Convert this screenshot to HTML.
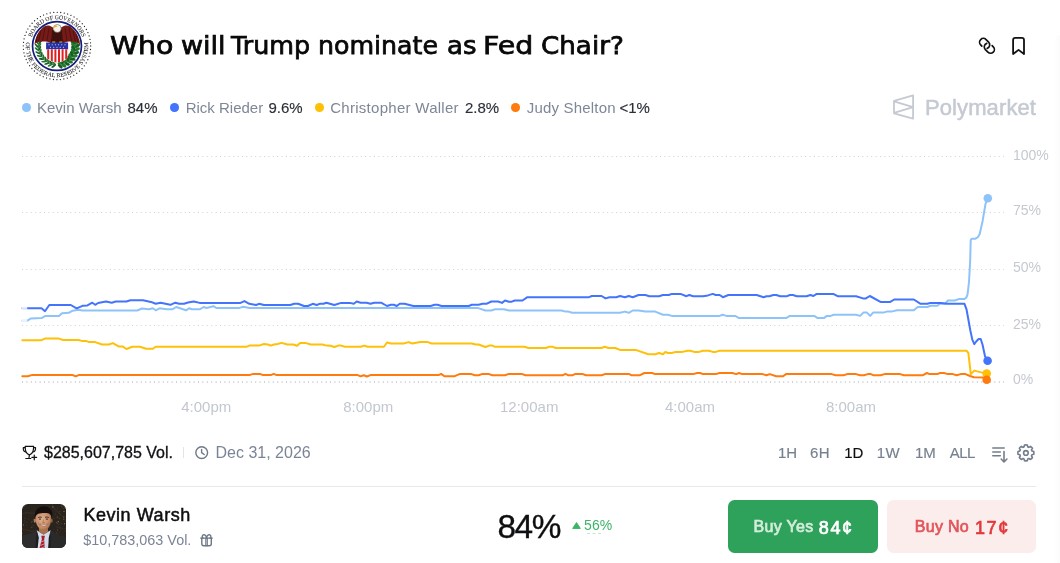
<!DOCTYPE html>
<html lang="en">
<head>
<meta charset="utf-8">
<title>Who will Trump nominate as Fed Chair?</title>
<style>
*{box-sizing:border-box;margin:0;padding:0}
html,body{width:1060px;height:563px;background:#fff;overflow:hidden}
body{font-family:"Liberation Sans",sans-serif;position:relative;color:#0e0f11}
.abs{position:absolute;white-space:nowrap}
#title{left:0;top:28px;width:700px;height:36px;font-family:"DejaVu Sans","Liberation Sans",sans-serif;font-size:24.8px;line-height:36px;font-weight:400;color:#08090a;-webkit-text-stroke:0.75px #08090a}
#title span{position:absolute;top:0;transform-origin:0 50%;transform:scaleX(1.07)}
.lg{top:99px;height:18px;line-height:18px;font-size:15px;color:#7e8797}
.lgp{top:99px;height:18px;line-height:18px;font-size:15px;color:#2b3038;-webkit-text-stroke:0.15px #2b3038}
.dot{width:8.6px;height:8.6px;border-radius:50%;top:103.100px}
#pm{left:925px;top:94px;font-size:22px;line-height:28px;color:#c5c9d2;-webkit-text-stroke:0.5px #c5c9d2;letter-spacing:0.1px}
.ylab{font-size:14px;line-height:16px;color:#c5c9d0;left:1013px}
.xlab{font-size:15px;line-height:16px;color:#c3c7cf;top:399px}
#vol{left:44px;top:443px;font-size:16px;line-height:20px;color:#111316;-webkit-text-stroke:0.3px #111316}
#date{left:215.500px;top:443px;font-size:16px;line-height:20px;color:#7b8496}
.tf{top:443px;font-size:15px;line-height:20px;color:#77808f;-webkit-text-stroke:0.15px #77808f}
.tf.on{color:#0e0f11;-webkit-text-stroke:0.15px #0e0f11}
#hr{left:22px;top:486px;width:1014px;height:1px;background:#e6e8ea}
#avatar{left:22px;top:504px;width:44px;height:44px;border-radius:6px;overflow:hidden}
#name{left:83.400px;top:503px;font-size:18px;line-height:24px;color:#0e0f11;-webkit-text-stroke:0.5px #0e0f11;letter-spacing:0.55px}
#sub{left:83.300px;top:530px;font-size:14.400px;line-height:20px;color:#7b8496}
#pct{left:497.500px;top:506.500px;font-size:33.400px;line-height:40px;color:#0e0f11;letter-spacing:-1.500px;-webkit-text-stroke:0.35px #0e0f11}
#chg{left:584px;top:516px;font-size:14px;line-height:18px;color:#3db468;letter-spacing:0.15px}
.btn{top:500px;height:53px;border-radius:6.500px}
#yes{left:728px;width:150px;background:#2ea15b;color:#d4ecdb}
#no{left:887px;width:149px;background:#fbedec;color:#e0565a}
.btn span{position:absolute;top:0;line-height:53px;font-weight:400;font-size:16px;letter-spacing:0.3px;-webkit-text-stroke:0.7px currentColor}
.btn b{position:absolute;top:1.500px;line-height:53px;font-weight:400;font-size:18px;letter-spacing:1.600px;-webkit-text-stroke:0.7px currentColor}
#yes b{color:#fff}
#no b{color:#e2383c}
</style>
</head>
<body>

<!-- Fed seal -->
<svg id="seal" class="abs" style="left:17.100px;top:6.100px" width="80" height="80" viewBox="-40 -40 80 80">
  <defs>
    <path id="arcTop" d="M-26.700 0A26.700 26.700 0 0 1 26.700 0"/>
    <path id="arcBot" d="M-29.318 -10.671A31.2 31.2 0 1 0 29.318 -10.671"/>
    <clipPath id="inner"><circle r="23.700"/></clipPath>
  </defs>
  <circle r="33.700" fill="none" stroke="#262626" stroke-width="1.300" stroke-dasharray="0.010 3.519" stroke-linecap="round"/>
  <text font-family="Liberation Serif,serif" font-weight="400" font-size="6" fill="#262626" stroke="#262626" stroke-width="0.060" text-anchor="middle"><textPath href="#arcTop" startOffset="50%" textLength="65.500" lengthAdjust="spacingAndGlyphs">BOARD OF GOVERNORS</textPath></text>
  <text font-family="Liberation Serif,serif" font-weight="400" font-size="5.800" fill="#262626" stroke="#262626" stroke-width="0.060" text-anchor="middle"><textPath href="#arcBot" startOffset="50%" textLength="105" lengthAdjust="spacingAndGlyphs">OF THE FEDERAL RESERVE SYSTEM</textPath></text>
  <circle r="24.450" fill="#fff" stroke="#171d7c" stroke-width="1.700"/>
  <g clip-path="url(#inner)">
    <!-- laurel branches -->
    <g>
      <path d="M-18.70 -1.97 L-18.75 1.38 L-18.21 4.69 L-17.08 7.85 L-15.42 10.75 L-13.27 13.32 L-10.69 15.46 L-7.78 17.11 L-4.62 18.22 L-1.31 18.75" fill="none" stroke="#1f4f1c" stroke-width="0.800"/>
      <ellipse cx="-17.01" cy="-3.71" rx="2.7" ry="0.95" fill="#175f22" transform="rotate(314.0 -17.01 -3.71)"/>
      <ellipse cx="-19.98" cy="-4.03" rx="2.7" ry="0.95" fill="#24792f" transform="rotate(238.0 -19.98 -4.03)"/>
      <ellipse cx="-17.40" cy="-0.64" rx="2.7" ry="0.95" fill="#24792f" transform="rotate(303.8 -17.40 -0.64)"/>
      <ellipse cx="-20.38" cy="-0.42" rx="2.7" ry="0.95" fill="#175f22" transform="rotate(227.8 -20.38 -0.42)"/>
      <ellipse cx="-17.23" cy="2.46" rx="2.7" ry="0.95" fill="#175f22" transform="rotate(293.6 -17.23 2.46)"/>
      <ellipse cx="-20.13" cy="3.21" rx="2.7" ry="0.95" fill="#24792f" transform="rotate(217.6 -20.13 3.21)"/>
      <ellipse cx="-16.52" cy="5.48" rx="2.7" ry="0.95" fill="#24792f" transform="rotate(283.3 -16.52 5.48)"/>
      <ellipse cx="-19.24" cy="6.73" rx="2.7" ry="0.95" fill="#175f22" transform="rotate(207.3 -19.24 6.73)"/>
      <ellipse cx="-15.29" cy="8.33" rx="2.7" ry="0.95" fill="#175f22" transform="rotate(273.1 -15.29 8.33)"/>
      <ellipse cx="-17.74" cy="10.04" rx="2.7" ry="0.95" fill="#24792f" transform="rotate(197.1 -17.74 10.04)"/>
      <ellipse cx="-13.57" cy="10.91" rx="2.7" ry="0.95" fill="#24792f" transform="rotate(262.9 -13.57 10.91)"/>
      <ellipse cx="-15.68" cy="13.03" rx="2.7" ry="0.95" fill="#175f22" transform="rotate(186.9 -15.68 13.03)"/>
      <ellipse cx="-11.42" cy="13.14" rx="2.7" ry="0.95" fill="#175f22" transform="rotate(252.7 -11.42 13.14)"/>
      <ellipse cx="-13.12" cy="15.60" rx="2.7" ry="0.95" fill="#24792f" transform="rotate(176.7 -13.12 15.60)"/>
      <ellipse cx="-8.90" cy="14.96" rx="2.7" ry="0.95" fill="#24792f" transform="rotate(242.4 -8.90 14.96)"/>
      <ellipse cx="-10.14" cy="17.68" rx="2.7" ry="0.95" fill="#175f22" transform="rotate(166.4 -10.14 17.68)"/>
      <ellipse cx="-6.11" cy="16.30" rx="2.7" ry="0.95" fill="#175f22" transform="rotate(232.2 -6.11 16.30)"/>
      <ellipse cx="-6.84" cy="19.20" rx="2.7" ry="0.95" fill="#24792f" transform="rotate(156.2 -6.84 19.20)"/>
      <ellipse cx="-3.12" cy="17.13" rx="2.7" ry="0.95" fill="#24792f" transform="rotate(222.0 -3.12 17.13)"/>
      <ellipse cx="-3.33" cy="20.11" rx="2.7" ry="0.95" fill="#175f22" transform="rotate(146.0 -3.33 20.11)"/>
      <path d="M17.69 -5.07 L18.31 -1.86 L18.35 1.41 L17.81 4.64 L16.70 7.72 L15.07 10.55 L12.97 13.06 L10.45 15.15 L7.60 16.76 L4.51 17.84 L1.28 18.36" fill="none" stroke="#1f4f1c" stroke-width="0.800"/>
      <ellipse cx="19.12" cy="-7.36" rx="3.0" ry="1.55" fill="#175f22" transform="rotate(-58.0 19.12 -7.36)"/>
      <ellipse cx="15.26" cy="-6.26" rx="3.0" ry="1.55" fill="#227a2e" transform="rotate(-154.0 15.26 -6.26)"/>
      <ellipse cx="20.12" cy="-3.86" rx="3.0" ry="1.55" fill="#227a2e" transform="rotate(-47.8 20.12 -3.86)"/>
      <ellipse cx="16.13" cy="-3.45" rx="3.0" ry="1.55" fill="#175f22" transform="rotate(-143.8 16.13 -3.45)"/>
      <ellipse cx="20.48" cy="-0.24" rx="3.0" ry="1.55" fill="#175f22" transform="rotate(-37.6 20.48 -0.24)"/>
      <ellipse cx="16.48" cy="-0.54" rx="3.0" ry="1.55" fill="#227a2e" transform="rotate(-133.6 16.48 -0.54)"/>
      <ellipse cx="20.20" cy="3.40" rx="3.0" ry="1.55" fill="#227a2e" transform="rotate(-27.4 20.20 3.40)"/>
      <ellipse cx="16.32" cy="2.38" rx="3.0" ry="1.55" fill="#175f22" transform="rotate(-123.4 16.32 2.38)"/>
      <ellipse cx="19.28" cy="6.92" rx="3.0" ry="1.55" fill="#175f22" transform="rotate(-17.2 19.28 6.92)"/>
      <ellipse cx="15.64" cy="5.24" rx="3.0" ry="1.55" fill="#227a2e" transform="rotate(-113.2 15.64 5.24)"/>
      <ellipse cx="17.75" cy="10.22" rx="3.0" ry="1.55" fill="#227a2e" transform="rotate(-7.0 17.75 10.22)"/>
      <ellipse cx="14.47" cy="7.92" rx="3.0" ry="1.55" fill="#175f22" transform="rotate(-103.0 14.47 7.92)"/>
      <ellipse cx="15.66" cy="13.21" rx="3.0" ry="1.55" fill="#175f22" transform="rotate(3.2 15.66 13.21)"/>
      <ellipse cx="12.83" cy="10.36" rx="3.0" ry="1.55" fill="#227a2e" transform="rotate(-92.8 12.83 10.36)"/>
      <ellipse cx="13.07" cy="15.77" rx="3.0" ry="1.55" fill="#227a2e" transform="rotate(13.4 13.07 15.77)"/>
      <ellipse cx="10.80" cy="12.47" rx="3.0" ry="1.55" fill="#175f22" transform="rotate(-82.6 10.80 12.47)"/>
      <ellipse cx="10.08" cy="17.84" rx="3.0" ry="1.55" fill="#175f22" transform="rotate(23.6 10.08 17.84)"/>
      <ellipse cx="8.42" cy="14.18" rx="3.0" ry="1.55" fill="#227a2e" transform="rotate(-72.4 8.42 14.18)"/>
      <ellipse cx="6.76" cy="19.34" rx="3.0" ry="1.55" fill="#227a2e" transform="rotate(33.8 6.76 19.34)"/>
      <ellipse cx="5.77" cy="15.45" rx="3.0" ry="1.55" fill="#175f22" transform="rotate(-62.2 5.77 15.45)"/>
      <ellipse cx="3.23" cy="20.23" rx="3.0" ry="1.55" fill="#175f22" transform="rotate(44.0 3.23 20.23)"/>
      <ellipse cx="2.95" cy="16.23" rx="3.0" ry="1.55" fill="#227a2e" transform="rotate(-52.0 2.95 16.23)"/>
    </g>
    <!-- wings -->
    <path d="M-4 -18.500C-7 -21 -10 -21 -12 -20C-17 -17 -21 -12 -22.500 -2C-19 -4.500 -15 -4.800 -11.500 -4.500C-9 -4.200 -7 -3.500 -5 -2L-3 -8Z" fill="#761b17"/>
    <path d="M4 -18.500C7 -21 10.500 -21 12.500 -20C17.500 -17 21.500 -12 23.200 -1.500C20 -4.500 16 -4.800 12 -4.500C9.500 -4.200 7.500 -3.500 5.500 -2L3 -8Z" fill="#761b17"/>
    <path d="M-5 -16C-5 -10 -6 -5 -7 -1L7 -1C6 -5 5 -10 5 -16Z" fill="#3e110e"/>
    <g stroke="#3e110e" stroke-width="0.700" fill="none">
      <path d="M-8 -18L-10 -5M-12 -18.500L-14.500 -5M-16 -15.500L-18.500 -4.500M-19 -11.500L-21 -4"/>
      <path d="M8 -18L10 -5M12 -18.500L14.500 -5M16 -15.500L18.500 -4.500M19 -11.500L21 -4"/>
    </g>
    <!-- head -->
    <ellipse cx="0.300" cy="-17.500" rx="3.900" ry="4" fill="#f4f1ea" stroke="#4a3b33" stroke-width="0.500"/>
    <path d="M-3.900 -19.800L-1.500 -21L0.500 -19.600L-2 -18.600Z" fill="#f2b21b"/>
    <!-- claws -->
    <path d="M-4.800 -4.600h3v1.600h-3zM2.300 -4.600h3v1.600h-3z" fill="#e7b32b"/>
    <!-- shield -->
    <path d="M-10.900 -3.400H11.100V3.400H-10.900Z" fill="#2632a6"/>
    <path d="M-10.300 3.300H10.500V11C10.500 14 6 15.500 0.100 16.800C-5.800 15.500 -10.300 14 -10.300 11Z" fill="#fff"/>
    <g fill="#e0201f">
      <path d="M-9.800 3.300h2v10.500l-2 -1.200z"/>
      <path d="M-6.200 3.300h2v12.300l-2 -.8z"/>
      <path d="M-2.600 3.300h2v13.300l-2 -.5z"/>
      <path d="M1 3.300h2v12.800l-2 .5z"/>
      <path d="M4.600 3.300h2v11.500l-2 .8z"/>
      <path d="M8.200 3.300h2v9.300l-2 1.200z"/>
    </g>
    <g fill="#e9ecff">
      <circle cx="-8" cy="-1.200" r=".55"/><circle cx="-4.800" cy="-1.200" r=".55"/><circle cx="-1.600" cy="-1.200" r=".55"/><circle cx="1.600" cy="-1.200" r=".55"/><circle cx="4.800" cy="-1.200" r=".55"/><circle cx="8" cy="-1.200" r=".55"/>
      <circle cx="-6.400" cy="1.300" r=".55"/><circle cx="-3.200" cy="1.300" r=".55"/><circle cx="0" cy="1.300" r=".55"/><circle cx="3.200" cy="1.300" r=".55"/><circle cx="6.400" cy="1.300" r=".55"/>
    </g>
  </g>
</svg>

<div id="title" class="abs"><span style="left:110px;transform:scaleX(1.146)">Who </span><span style="left:180.500px;transform:scaleX(1.09)">will </span><span style="left:231px;transform:scaleX(1.024)">Trump </span><span style="left:317.800px;transform:scaleX(1.019)">nominate </span><span style="left:447px;transform:scaleX(1.05)">as </span><span style="left:483px;transform:scaleX(1.146)">Fed </span><span style="left:541px;transform:scaleX(1.055)">Chair?</span></div>

<!-- header icons -->
<svg class="abs" style="left:0;top:0" width="1060" height="70" viewBox="0 0 1060 70" fill="none" stroke="#111" stroke-width="1.7" stroke-linecap="round" stroke-linejoin="round">
  <g transform="translate(986.98 45.86) rotate(45)">
    <path d="M-3.500 3.800 L-5.100 3.800 A3.800 3.800 0 0 1 -5.100 -3.800 L-1.500 -3.800 A3.800 3.800 0 0 1 1.950 1.600"/>
    <path d="M3.500 -3.800 L5.100 -3.800 A3.800 3.800 0 0 1 5.100 3.800 L1.500 3.800 A3.800 3.800 0 0 1 -1.950 -1.600"/>
  </g>
  <path stroke-width="1.8" d="M1013.100 54 V40.100 a2.200 2.200 0 0 1 2.200 -2.200 h6.500 a2.200 2.200 0 0 1 2.200 2.200 V54 L1018.550 49.900 Z"/>
</svg>

<!-- legend -->
<div class="abs dot" style="left:22.200px;background:#8ec3fa"></div><div class="abs lg" style="left:37px">Kevin Warsh</div><div class="abs lgp" style="left:127.500px">84%</div>
<div class="abs dot" style="left:170.200px;background:#4374fb"></div><div class="abs lg" style="left:185.700px">Rick Rieder</div><div class="abs lgp" style="left:268.500px">9.6%</div>
<div class="abs dot" style="left:315.200px;background:#ffc008"></div><div class="abs lg" style="left:330.200px;letter-spacing:0.28px">Christopher Waller</div><div class="abs lgp" style="left:465px">2.8%</div>
<div class="abs dot" style="left:511.400px;background:#ff7b0e"></div><div class="abs lg" style="left:526.800px;letter-spacing:0.18px">Judy Shelton</div><div class="abs lgp" style="left:619.500px">&lt;1%</div>

<!-- Polymarket watermark -->
<svg class="abs" style="left:892px;top:93px" width="24" height="28" viewBox="0 0 24 28" fill="none" stroke="#c5c9d2" stroke-width="1.8" stroke-linejoin="round">
  <path d="M21.100 2.400 L2 7.900 V20.300 L21.100 25.700 Z"/>
  <path d="M2 8.400 L21.100 14.100 L2 19.800"/>
</svg>
<div id="pm" class="abs">Polymarket</div>

<!-- chart -->
<svg class="abs" style="left:0;top:0" width="1060" height="563" viewBox="0 0 1060 563" fill="none">
  <g stroke="#cfd3d9" stroke-width="1" stroke-dasharray="1 3.4">
    <path d="M22 156.500H1004"/>
    <path d="M22 212.500H1004"/>
    <path d="M22 269.500H1004"/>
    <path d="M22 325.500H1004"/>
  </g>
  <path d="M22 382H1004" stroke="#cfd3d9" stroke-width="2" stroke-dasharray="1 3.4"/>
  <g stroke-width="2" stroke-linejoin="round" stroke-linecap="round">
    <path stroke="#ff7b0e" d="M22.3 376.3 L27.8 376.3 L31.7 375.1 L72.7 375.1 L75.7 376.3 L78.6 375.1 L220.0 375.1 L249.3 375.1 L253.2 373.9 L260.0 373.9 L263.0 375.1 L270.8 375.1 L273.7 373.9 L276.6 375.1 L357.7 375.1 L360.6 376.3 L363.9 375.3 L366.9 376.5 L370.4 375.1 L420.0 375.1 L438.6 375.1 L441.1 373.9 L444.4 376.3 L454.2 376.3 L460.0 373.9 L470.8 373.9 L474.7 375.3 L478.6 375.3 L482.5 373.9 L488.4 373.9 L492.3 375.3 L505.0 375.3 L508.9 373.9 L521.6 373.9 L525.5 375.3 L562.6 375.3 L565.5 373.9 L568.4 375.3 L572.3 375.3 L575.3 373.9 L582.1 373.9 L586.0 375.3 L601.6 375.3 L605.5 373.9 L620.0 373.9 L628.8 373.9 L631.7 375.3 L639.5 375.3 L644.4 373.0 L652.2 373.0 L655.2 374.1 L693.2 374.1 L697.1 373.0 L700.1 373.0 L703.0 374.1 L715.7 374.1 L719.6 373.0 L732.3 373.0 L736.2 374.1 L739.1 373.0 L742.1 374.1 L762.6 374.1 L766.5 375.3 L769.8 374.1 L776.2 376.3 L783.1 376.3 L786.0 374.1 L820.0 374.1 L831.7 374.1 L835.6 375.3 L843.4 375.3 L847.3 374.1 L856.1 374.1 L860.0 375.3 L863.9 375.3 L867.9 374.1 L870.8 374.1 L873.7 375.3 L880.5 375.3 L884.5 374.1 L900.1 374.1 L904.0 375.3 L922.5 375.3 L927.0 373.0 L929.4 374.1 L937.2 374.1 L940.1 373.0 L944.0 373.0 L947.9 374.1 L952.8 374.1 L956.7 375.3 L960.6 374.1 L965.5 374.1 L970.0 376.0 L974.0 377.3 L986.4 377.6"/>
    <path stroke="#ffc008" d="M22.3 340.2 L41.5 340.2 L45.0 338.6 L59.0 338.6 L63.0 340.0 L78.6 340.0 L82.5 341.1 L86.4 341.1 L89.3 342.1 L95.2 342.1 L102.0 344.5 L108.9 344.5 L112.8 343.1 L118.6 346.4 L122.5 346.4 L126.4 349.0 L132.3 346.8 L140.1 346.8 L146.0 348.8 L152.8 348.8 L155.7 346.8 L220.0 346.8 L246.4 346.8 L249.3 345.6 L259.0 345.6 L264.0 344.0 L267.9 344.5 L270.8 345.6 L273.7 344.5 L277.6 344.0 L281.5 342.9 L287.4 344.5 L293.2 344.5 L297.1 345.8 L300.1 343.1 L306.0 343.1 L310.8 344.5 L322.5 344.5 L326.4 345.6 L330.4 345.8 L334.3 347.0 L338.2 345.6 L341.1 345.6 L345.0 346.8 L360.6 346.8 L364.5 345.6 L367.5 346.8 L384.0 346.8 L387.0 342.5 L390.9 343.5 L403.6 343.5 L408.5 342.1 L412.4 343.5 L420.0 342.1 L427.8 342.1 L431.7 343.5 L471.8 343.5 L475.7 344.5 L478.6 344.5 L485.4 347.0 L489.3 345.6 L492.3 345.6 L495.2 346.8 L524.5 346.8 L528.4 348.0 L546.0 348.0 L548.9 346.8 L552.8 346.8 L555.7 348.0 L601.6 348.0 L604.6 346.8 L608.5 348.0 L615.3 348.0 L620.0 349.9 L635.6 349.9 L648.3 354.2 L655.2 354.2 L659.0 353.0 L663.0 354.2 L665.3 351.9 L667.9 353.0 L671.8 353.0 L675.7 351.9 L682.5 351.9 L687.4 350.7 L690.3 350.7 L694.2 351.9 L699.1 351.9 L703.0 350.7 L708.9 350.7 L712.8 351.9 L715.7 351.9 L719.6 350.7 L820.0 350.7 L966.5 350.7 L968.4 353.2 L970.8 374.1 L974.3 370.6 L986.4 373.6"/>
    <path stroke="#8ec3fa" d="M22.3 320.4 L27.8 320.4 L30.7 318.5 L41.5 318.1 L45.0 316.1 L59.0 315.9 L62.0 313.2 L68.8 312.8 L72.7 310.7 L78.6 309.7 L82.5 310.5 L137.2 310.5 L142.0 308.5 L148.9 309.3 L152.8 308.3 L155.7 310.3 L159.6 308.3 L166.5 309.3 L172.3 309.3 L176.2 307.0 L186.0 310.3 L189.0 308.3 L191.9 309.3 L199.7 309.3 L203.6 307.0 L206.5 308.0 L213.4 306.2 L216.3 308.0 L220.0 308.0 L239.5 307.9 L243.4 306.8 L249.3 307.9 L420.0 307.9 L477.6 307.9 L485.4 310.5 L491.3 310.5 L495.2 309.3 L504.0 309.3 L508.9 310.5 L561.6 310.5 L565.5 311.6 L568.4 311.6 L572.3 312.8 L620.0 312.8 L624.9 311.6 L628.8 312.8 L632.7 310.5 L638.6 310.5 L645.4 311.6 L655.2 311.6 L663.0 314.8 L667.9 314.8 L671.8 315.9 L719.6 315.9 L722.5 314.8 L726.4 315.9 L735.2 315.9 L739.1 318.1 L786.0 318.1 L789.9 315.9 L814.3 315.9 L817.3 317.9 L820.0 318.1 L823.9 318.1 L826.8 315.9 L830.7 315.9 L833.7 314.8 L856.1 314.8 L860.0 315.9 L863.4 312.6 L866.9 312.6 L870.2 315.9 L873.1 312.6 L883.5 312.6 L887.4 311.4 L892.3 311.4 L897.1 310.3 L913.8 310.3 L917.7 307.0 L927.4 307.0 L930.4 305.8 L937.2 305.8 L940.1 303.8 L945.0 303.8 L947.9 300.5 L954.8 300.5 L958.7 299.1 L964.5 299.1 L966.3 297.5 L967.5 294.6 L969.0 282.2 L970.2 260.0 L970.7 240.1 L971.8 238.7 L975.5 238.7 L978.0 237.0 L979.8 233.8 L982.6 221.0 L985.5 204.0 L987.8 198.3"/>
    <path stroke="#4374fb" d="M22.3 308.3 L41.5 308.3 L45.0 311.2 L49.3 305.0 L70.8 305.0 L76.6 308.3 L82.5 305.8 L87.4 305.4 L92.3 302.7 L95.2 304.8 L98.1 303.0 L106.0 301.5 L111.8 302.7 L115.7 301.5 L126.4 301.5 L130.4 300.3 L143.0 300.3 L150.9 301.9 L155.7 303.8 L160.6 302.7 L170.4 304.8 L175.3 302.7 L179.2 303.8 L184.0 303.8 L188.0 302.5 L193.8 301.5 L199.7 302.9 L220.0 302.9 L240.5 302.9 L244.4 301.1 L249.3 303.8 L256.1 305.0 L259.0 303.8 L264.0 305.0 L290.3 305.0 L294.2 303.8 L298.1 303.8 L304.0 306.0 L307.9 306.0 L312.8 303.8 L316.7 305.0 L319.6 303.8 L323.5 303.8 L326.4 302.7 L334.3 305.0 L341.1 302.9 L349.9 302.9 L353.8 303.8 L356.7 301.5 L360.6 302.7 L366.5 302.7 L370.4 303.8 L374.3 302.7 L381.1 302.7 L387.0 306.0 L390.9 304.8 L393.8 304.8 L396.8 306.0 L399.7 303.8 L404.6 303.8 L413.4 306.0 L420.0 306.0 L430.7 306.0 L434.6 304.8 L437.6 304.8 L441.5 306.0 L468.8 306.0 L471.8 304.8 L478.6 304.8 L482.5 303.8 L486.4 303.8 L491.3 301.5 L498.1 301.5 L502.0 302.9 L505.0 300.5 L508.9 301.7 L511.8 301.7 L514.7 300.5 L522.5 300.5 L527.4 297.2 L589.0 297.2 L591.9 296.0 L601.6 296.0 L605.5 298.4 L609.5 297.2 L616.3 297.2 L620.0 296.0 L624.9 297.2 L628.8 296.0 L632.7 297.2 L638.6 295.0 L645.4 295.0 L649.3 296.2 L659.0 296.2 L663.0 295.0 L668.8 295.0 L671.8 293.9 L680.5 293.9 L686.4 296.2 L689.3 295.0 L693.2 296.2 L703.0 296.2 L707.9 295.4 L712.8 293.9 L715.7 295.0 L719.6 295.0 L722.9 297.2 L728.4 295.0 L756.7 295.0 L763.6 297.2 L766.5 296.2 L769.4 296.2 L773.3 295.0 L776.2 295.0 L780.2 296.2 L787.0 296.2 L789.9 295.0 L792.9 295.0 L796.8 296.2 L806.5 296.2 L810.4 295.0 L813.4 296.0 L816.3 294.1 L820.0 294.1 L833.7 294.1 L837.6 296.2 L856.1 296.2 L863.0 298.4 L865.9 298.4 L869.8 296.0 L880.5 301.9 L890.3 301.9 L894.2 299.5 L913.8 299.5 L920.6 303.8 L927.4 303.8 L930.4 302.9 L941.1 302.9 L947.0 303.8 L964.5 303.8 L966.5 309.3 L970.4 330.8 L972.3 339.6 L974.3 344.1 L976.2 341.5 L978.6 339.0 L980.7 339.0 L982.5 344.5 L985.0 356.2 L987.6 360.7"/>
  </g>
  <rect x="21.500" y="307" width="5.700" height="2.600" fill="#fff" opacity="0.800"/>
  <rect x="21.500" y="319.100" width="5.700" height="2.600" fill="#fff" opacity="0.800"/>
  <circle cx="987.8" cy="198.3" r="4.3" fill="#8ec3fa"/>
  <circle cx="987.6" cy="360.7" r="4.3" fill="#4374fb"/>
  <circle cx="986.7" cy="373.6" r="4.3" fill="#ffc008"/>
  <circle cx="986.7" cy="379.8" r="4.3" fill="#ff7b0e"/>
</svg>
<div class="abs ylab" style="top:146.600px">100%</div>
<div class="abs ylab" style="top:202.400px">75%</div>
<div class="abs ylab" style="top:259.300px">50%</div>
<div class="abs ylab" style="top:315.800px">25%</div>
<div class="abs ylab" style="top:370.700px">0%</div>
<div class="abs xlab" style="left:181.200px">4:00pm</div>
<div class="abs xlab" style="left:343.200px">8:00pm</div>
<div class="abs xlab" style="left:500px">12:00am</div>
<div class="abs xlab" style="left:665px">4:00am</div>
<div class="abs xlab" style="left:826px">8:00am</div>

<!-- meta row -->
<svg class="abs" style="left:18px;top:440px" width="30" height="26" viewBox="18 440 30 26" fill="none" stroke="#111316" stroke-width="1.200" stroke-linecap="round" stroke-linejoin="round">
  <path d="M25.200 446.300H33.600C33.600 450.500 33.400 453 29.400 455C25.400 453 25.200 450.500 25.200 446.300Z"/>
  <path d="M24.900 447.600H23.300C23.100 450 23.900 451.600 25.700 452M33.900 447.600H35.500C35.700 450 34.900 451.600 33.100 452"/>
  <path d="M29.400 455L28.900 458.500M25.800 458.500H30.800"/>
  <path d="M31.900 457.400H36.600M34.250 455V459.800"/>
</svg>
<div id="vol" class="abs">$285,607,785 Vol.</div>
<div class="abs" style="left:183px;top:447px;width:1px;height:11px;background:#e1e4e8"></div>
<svg class="abs" style="left:193px;top:444px" width="18" height="18" viewBox="193 444 18 18" fill="none" stroke="#6f7988" stroke-width="1.400" stroke-linecap="round" stroke-linejoin="round">
  <circle cx="201.700" cy="452.600" r="5.900"/>
  <path d="M201.600 449.500V452.600L204.200 454.500"/>
</svg>
<div id="date" class="abs">Dec 31, 2026</div>

<div class="abs tf" style="left:778px">1H</div>
<div class="abs tf" style="left:810px;letter-spacing:0.3px">6H</div>
<div class="abs tf on" style="left:844.200px">1D</div>
<div class="abs tf" style="left:876.800px;letter-spacing:0.4px">1W</div>
<div class="abs tf" style="left:915px">1M</div>
<div class="abs tf" style="left:949.800px;letter-spacing:-0.6px">ALL</div>
<svg class="abs" style="left:985px;top:438px" width="56" height="30" viewBox="985 438 56 30" fill="none" stroke="#737d8d" stroke-width="1.6" stroke-linecap="round" stroke-linejoin="round">
  <path d="M992.800 448H1004.200M992.800 452H1000.300M992.800 455.700H1000.300"/>
  <path d="M1004 451.600V461.800M1001.200 459L1004 462L1006.900 459"/>
  <path d="M1024.06 446.88L1024.51 445.02A8.0 8.0 0 0 1 1027.29 445.02L1027.74 446.88A6.3 6.3 0 0 1 1028.86 447.34L1030.49 446.35A8.0 8.0 0 0 1 1032.45 448.31L1031.46 449.94A6.3 6.3 0 0 1 1031.92 451.06L1033.78 451.51A8.0 8.0 0 0 1 1033.78 454.29L1031.92 454.74A6.3 6.3 0 0 1 1031.46 455.86L1032.45 457.49A8.0 8.0 0 0 1 1030.49 459.45L1028.86 458.46A6.3 6.3 0 0 1 1027.74 458.92L1027.29 460.78A8.0 8.0 0 0 1 1024.51 460.78L1024.06 458.92A6.3 6.3 0 0 1 1022.94 458.46L1021.31 459.45A8.0 8.0 0 0 1 1019.35 457.49L1020.34 455.86A6.3 6.3 0 0 1 1019.88 454.74L1018.02 454.29A8.0 8.0 0 0 1 1018.02 451.51L1019.88 451.06A6.3 6.3 0 0 1 1020.34 449.94L1019.35 448.31A8.0 8.0 0 0 1 1021.31 446.35L1022.94 447.34A6.3 6.3 0 0 1 1024.06 446.88Z"/>
  <circle cx="1025.900" cy="452.900" r="2.300"/>
</svg>

<div id="hr" class="abs"></div>
<div class="abs" style="left:1054px;top:35px;width:6px;height:528px;border-top-left-radius:6px;background:linear-gradient(to right,rgba(16,24,40,0),rgba(16,24,40,0.02))"></div>

<!-- outcome row -->
<div id="avatar" class="abs">
<svg width="44" height="44" viewBox="0 0 44 44">
  <defs>
    <filter id="soft" x="-10%" y="-10%" width="120%" height="120%"><feGaussianBlur stdDeviation="0.45"/></filter>
    <radialGradient id="skin" cx="42%" cy="45%" r="65%"><stop offset="0" stop-color="#e2b08e"/><stop offset="0.7" stop-color="#c48a66"/><stop offset="1" stop-color="#8e5d43"/></radialGradient>
  </defs>
  <rect width="44" height="44" fill="#2a241f"/>
  <g filter="url(#soft)">
    <path d="M0 10C8 6 12 14 20 4M30 0C34 10 40 8 44 18M0 26C6 24 8 30 14 26M34 22C38 26 40 22 44 28" stroke="#4a3a28" stroke-width="0.800" fill="none" opacity="0.7"/>
    <circle cx="2.6" cy="16.2" r="0.32" fill="#b98a45" opacity="0.61"/>
    <circle cx="10.6" cy="17.6" r="0.33" fill="#8a6a35" opacity="0.87"/>
    <circle cx="2.7" cy="18.7" r="0.32" fill="#a07a3a" opacity="0.42"/>
    <circle cx="37.8" cy="9.3" r="0.37" fill="#8a6a35" opacity="0.69"/>
    <circle cx="4.5" cy="18.3" r="0.39" fill="#8a6a35" opacity="0.67"/>
    <circle cx="2.8" cy="1.9" r="0.40" fill="#b98a45" opacity="0.79"/>
    <circle cx="7.9" cy="25.0" r="0.34" fill="#6b5430" opacity="0.66"/>
    <circle cx="38.5" cy="23.3" r="0.44" fill="#8a6a35" opacity="0.46"/>
    <circle cx="6.7" cy="15.6" r="0.32" fill="#8a6a35" opacity="0.78"/>
    <circle cx="41.6" cy="15.2" r="0.63" fill="#8a6a35" opacity="0.77"/>
    <circle cx="31.5" cy="28.4" r="0.47" fill="#b98a45" opacity="0.58"/>
    <circle cx="36.3" cy="17.7" r="0.67" fill="#c9994d" opacity="0.70"/>
    <circle cx="42.0" cy="7.3" r="0.62" fill="#c9994d" opacity="0.78"/>
    <circle cx="41.1" cy="4.6" r="0.42" fill="#9a763a" opacity="0.74"/>
    <circle cx="42.5" cy="19.8" r="0.54" fill="#c9994d" opacity="0.93"/>
    <circle cx="39.2" cy="19.2" r="0.36" fill="#9a763a" opacity="0.87"/>
    <circle cx="30.9" cy="3.0" r="0.65" fill="#9a763a" opacity="0.85"/>
    <circle cx="34.6" cy="18.5" r="0.38" fill="#b88a44" opacity="0.79"/>
    <circle cx="37.0" cy="20.5" r="0.48" fill="#7a5f33" opacity="0.68"/>
    <circle cx="37.7" cy="28.1" r="0.33" fill="#7a5f33" opacity="0.64"/>
    <circle cx="33.2" cy="10.1" r="0.33" fill="#9a763a" opacity="0.68"/>
    <circle cx="41.9" cy="12.8" r="0.68" fill="#9a763a" opacity="0.60"/>
    <circle cx="43.0" cy="3.5" r="0.45" fill="#c9994d" opacity="0.69"/>
    <circle cx="37.9" cy="7.6" r="0.57" fill="#7a5f33" opacity="0.54"/>
    <circle cx="34.7" cy="29.0" r="0.60" fill="#9a763a" opacity="0.56"/>
    <circle cx="39.9" cy="2.3" r="0.49" fill="#c9994d" opacity="0.58"/>
    <circle cx="37.8" cy="14.5" r="0.38" fill="#b88a44" opacity="0.69"/>
    <circle cx="35.4" cy="13.1" r="0.70" fill="#9a763a" opacity="0.62"/>
    <circle cx="43.6" cy="24.5" r="0.42" fill="#9a763a" opacity="0.59"/>
    <circle cx="35.5" cy="25.9" r="0.56" fill="#9a763a" opacity="0.52"/>
    <circle cx="32.0" cy="14.4" r="0.30" fill="#7a5f33" opacity="0.87"/>
    <circle cx="35.4" cy="4.1" r="0.38" fill="#b88a44" opacity="0.51"/>
    <circle cx="35.2" cy="19.4" r="0.35" fill="#c9994d" opacity="0.87"/>
    <circle cx="1.6" cy="20.2" r="0.55" fill="#7a5f33" opacity="0.91"/>
    <circle cx="9.8" cy="18.0" r="0.38" fill="#b88a44" opacity="0.81"/>
    <circle cx="4.7" cy="21.7" r="0.33" fill="#9a763a" opacity="0.55"/>
    <circle cx="0.5" cy="29.4" r="0.40" fill="#c9994d" opacity="0.62"/>
    <circle cx="9.9" cy="23.5" r="0.42" fill="#b88a44" opacity="0.92"/>
    <circle cx="11.7" cy="16.0" r="0.49" fill="#9a763a" opacity="0.63"/>
    <circle cx="11.0" cy="17.3" r="0.31" fill="#7a5f33" opacity="0.69"/>
    <circle cx="3.0" cy="14.7" r="0.41" fill="#b88a44" opacity="0.54"/>
    <circle cx="1.7" cy="21.2" r="0.43" fill="#b88a44" opacity="0.77"/>
    <circle cx="11.1" cy="21.6" r="0.44" fill="#7a5f33" opacity="0.93"/>
    <circle cx="0.3" cy="24.2" r="0.49" fill="#7a5f33" opacity="0.64"/>
    <circle cx="12.0" cy="15.2" r="0.52" fill="#9a763a" opacity="0.91"/>
    <!-- suit -->
    <path d="M0 44V31.500C5 30.500 10 29.500 14.800 26.500L17 33L15.800 44Z" fill="#2f2d2e"/>
    <path d="M44 44V33.500C39 31.500 34 29.500 28.600 26.500L26.800 33L26.300 44Z" fill="#2b292b"/>
    <!-- shirt -->
    <path d="M14.800 26.300L21.500 30.500L28.600 26.300L27.300 36L26.500 44H15.200L16 35Z" fill="#d3dbec"/>
    <!-- neck -->
    <path d="M17 22H26V27.800L21.500 30.800L17 27.800Z" fill="#a9714f"/>
    <!-- tie -->
    <path d="M19.300 31.800H22.900L22.200 35L22.700 44H17.600L19.900 35Z" fill="#a81d27"/>
    <path d="M19.100 38L22.400 36.600M18.400 41.500L22.500 39.800M18.100 44.500L22.600 42.800" stroke="#f0dfe0" stroke-width="0.600"/>
    <!-- lapels -->
    <path d="M14.800 26.500L16.800 33.500L15.600 44H13.500Z" fill="#201e20"/>
    <path d="M28.600 26.500L26.700 34L26.300 44H28.500Z" fill="#1e1c1e"/>
    <!-- hair back -->
    <ellipse cx="21.800" cy="9.800" rx="8.600" ry="7.200" fill="#15100e"/>
    <!-- ears -->
    <ellipse cx="12.900" cy="16.800" rx="1.100" ry="2" fill="#b57d5b"/>
    <ellipse cx="29.700" cy="16.800" rx="1" ry="2" fill="#94603f"/>
    <!-- face -->
    <path d="M13.400 13C13.400 8 17.500 6.800 21.300 6.800C25.600 6.800 29.300 8.500 29.300 13C29.300 18 28.400 21.800 26 24.400C24.300 26.200 19.300 26.400 17.400 24.400C14.600 21.800 13.400 18 13.400 13Z" fill="url(#skin)"/>
    <!-- hair front -->
    <path d="M12.900 14C12 6.500 16.300 2.600 22 2.600C27.700 2.600 31.200 6.500 29.900 14.200C29.300 11.700 28.500 10.200 27 9.400C23.300 8.800 19 9 16.200 9.800C14.600 10.700 13.600 12 12.900 14Z" fill="#15100e"/>
    <!-- brows / eyes -->
    <path d="M16.200 13.600C17.300 12.900 18.800 12.900 19.800 13.400M23 13.400C24.100 12.900 25.700 12.900 26.800 13.600" stroke="#22150f" stroke-width="0.800" fill="none"/>
    <ellipse cx="18" cy="15" rx="1.200" ry="0.550" fill="#2c1a12"/>
    <ellipse cx="24.900" cy="15" rx="1.200" ry="0.550" fill="#2c1a12"/>
    <!-- nose / cheeks -->
    <path d="M21.300 15.500V18.300" stroke="#a06d4e" stroke-width="0.700"/>
    <path d="M20 18.800H22.900" stroke="#8f5d42" stroke-width="0.600"/>
    <!-- mouth -->
    <path d="M18 20.100C20 20.900 23.500 20.900 25.400 20.100C24.300 22.700 19.200 22.700 18 20.100Z" fill="#fbf6f1" stroke="#7b3f34" stroke-width="0.400"/>
    <path d="M16.600 18.500C16.800 20 17.300 21 18 21.600M26.500 18.500C26.300 20 25.800 21 25.200 21.600" stroke="#9a6548" stroke-width="0.500" fill="none"/>
  </g>
</svg>
</div>
<div id="name" class="abs">Kevin Warsh</div>
<div id="sub" class="abs">$10,783,063 Vol.</div>
<svg class="abs" style="left:195px;top:528px" width="24" height="24" viewBox="195 528 24 24" fill="none" stroke="#6d7787" stroke-width="1.400" stroke-linejoin="round" stroke-linecap="round">
  <path d="M200.700 538.100H212.300"/>
  <path d="M201.800 538.100V543.800a2 2 0 0 0 2 2h5.500a2 2 0 0 0 2-2V538.100"/>
  <path stroke-width="1.100" d="M205.800 538.100V545.800M207.300 538.100V545.800"/>
  <path d="M206.500 538C206.500 535.500 204.500 534.300 203.200 534.900C201.800 535.600 202 538 203.100 538M206.600 538C206.600 535.500 208.600 534.300 209.900 534.900C211.300 535.600 211.100 538 210 538"/>
</svg>
<div id="pct" class="abs">84%</div>
<div id="chg" class="abs">56%</div>
<svg class="abs" style="left:571px;top:521px" width="11" height="9" viewBox="0 0 11 9"><path d="M5.500 1.600L9.300 7.400H1.700z" fill="#3db468" stroke="#3db468" stroke-width="1" stroke-linejoin="round"/></svg>
<div class="abs" style="left:587px;top:533px;width:14px;height:0;border-top:1px dashed #c5e8d1"></div>

<div id="yes" class="abs btn"><span style="left:25.500px">Buy Yes</span><b style="left:90.800px">84¢</b></div>
<div id="no" class="abs btn"><span style="left:27.800px">Buy No</span><b style="left:88px">17¢</b></div>

</body>
</html>
